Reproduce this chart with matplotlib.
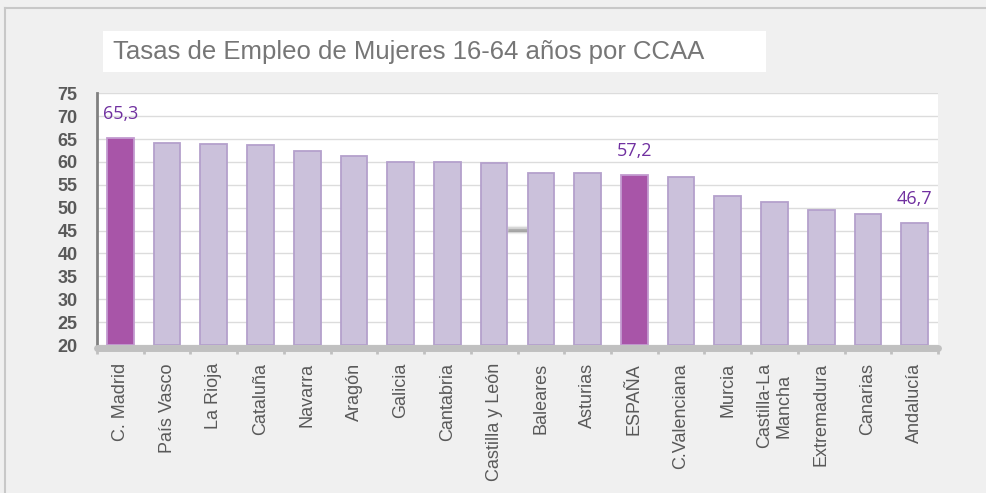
import matplotlib.pyplot as plt
from matplotlib.patches import Rectangle
from matplotlib.lines import Line2D

# datos: tasa de empleo de mujeres 16-64 por comunidad autonoma
regiones = ["C. Madrid", "País Vasco", "La Rioja", "Cataluña", "Navarra", "Aragón",
            "Galicia", "Cantabria", "Castilla y León", "Baleares", "Asturias", "ESPAÑA",
            "C.Valenciana", "Murcia", "Castilla-La\nMancha", "Extremadura", "Canarias",
            "Andalucía"]
tasas = [65.3, 64.1, 63.9, 63.6, 62.5, 61.4, 60.0, 60.0, 59.8, 57.6, 57.5, 57.2,
         56.7, 52.5, 51.2, 49.4, 48.6, 46.7]
etiquetas = {"C. Madrid": "65,3", "ESPAÑA": "57,2", "Andalucía": "46,7"}
yticks = [20, 25, 30, 35, 40, 45, 50, 55, 60, 65, 70, 75]

W, H = 986, 493
fig = plt.figure(figsize=(W / 100, H / 100), dpi=100, facecolor="#f0f0f0")

# borde del grafico (arriba e izquierda)
fig.add_artist(Line2D([5 / W, 1], [1 - 8 / H, 1 - 8 / H], color="#c8c8c8", lw=1.5))
fig.add_artist(Line2D([5 / W, 5 / W], [0, 1 - 8 / H], color="#c8c8c8", lw=1.5))

# caja blanca del titulo
fig.add_artist(Rectangle((103 / W, 1 - 72 / H), (766 - 103) / W, 41 / H,
                         facecolor="white", edgecolor="none"))
fig.text(113 / W, 1 - 52 / H, "Tasas de Empleo de Mujeres 16-64 años por CCAA",
         family="Liberation Sans", fontsize=18.5, color="#767676", va="center", ha="left")

ax = fig.add_axes([97 / W, 148 / H, 841 / W, 251.7 / H])
ax.set_facecolor("white")

# ejes primero (set_position reinicia los ticks)
for lado in ["top", "right"]:
    ax.spines[lado].set_visible(False)
ax.spines["left"].set_color("#808080")
ax.spines["left"].set_linewidth(2)
ax.spines["bottom"].set_position(("outward", 2))
ax.spines["bottom"].set_color("#c0c0c0")
ax.spines["bottom"].set_linewidth(5)
ax.spines["bottom"].set_capstyle("round")
ax.spines["bottom"].set_zorder(4)

x = list(range(len(regiones)))
relleno = ["#a855a8" if r in ("C. Madrid", "ESPAÑA") else "#cbc1db" for r in regiones]
borde = ["#c39bd0" if r in ("C. Madrid", "ESPAÑA") else "#b4a0cc" for r in regiones]
ax.bar(x, [t - 20 for t in tasas], bottom=20, width=0.57, color=relleno,
       edgecolor=borde, linewidth=1.3, zorder=3)

# pequeña sombra gris que aparece en el original entre dos barras
for lw, a in [(6, 0.15), (4, 0.3), (2, 0.6)]:
    ax.plot([8.29, 8.71], [45.2, 45.2], color="#909090", lw=lw, alpha=a, zorder=2,
            solid_capstyle="butt")

for i, r in enumerate(regiones):
    if r in etiquetas:
        ax.annotate(etiquetas[r], (i, tasas[i]), xytext=(0, 17), textcoords="offset points",
                    ha="center", va="center", fontsize=13, color="#7030a0",
                    family="Open Sans")

ax.set_xlim(-0.5, len(regiones) - 0.5)
ax.set_ylim(20, 75)
ax.set_xticks([i + 0.5 for i in range(-1, len(regiones))], minor=True)
ax.tick_params(axis="y", length=0, pad=14)
ax.tick_params(axis="x", which="major", length=0, pad=11)
ax.tick_params(axis="x", which="minor", length=4, width=2, color="#c0c0c0")

ax.set_yticks(yticks)
ax.set_yticklabels([str(v) for v in yticks], fontsize=13, fontweight="bold",
                   color="#595959", family="Liberation Sans")
ax.set_xticks(x)
ax.set_xticklabels(regiones, rotation=90, fontsize=13, color="#595959",
                   family="Liberation Sans", ha="center", va="top")
for lab in ax.get_xticklabels():
    lab.set_multialignment("center")

ax.grid(axis="y", color="#dcdcdc", linewidth=1, zorder=0)
ax.set_axisbelow(True)

fig.savefig("out.png", dpi=100, facecolor=fig.get_facecolor())
